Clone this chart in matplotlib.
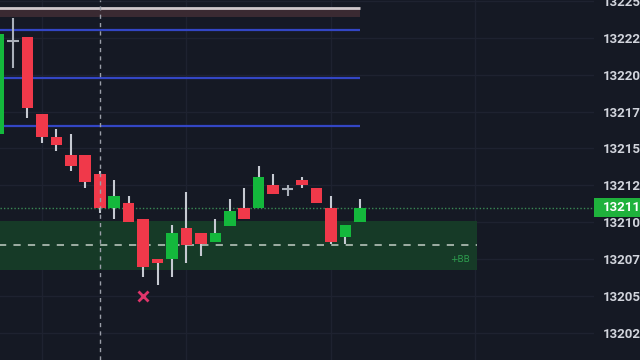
import numpy as np
import matplotlib
matplotlib.use('Agg')
import matplotlib.pyplot as plt
from matplotlib.ticker import FixedLocator, FixedFormatter
from matplotlib.patches import Rectangle
import matplotlib.transforms as mtransforms

# candle data (index 0..25)
opens  = [13216.00, 13222.30, 13222.55, 13217.30, 13215.75, 13214.55, 13214.55, 13213.30,
          13211.00, 13211.30, 13210.25, 13207.55, 13207.50, 13209.60, 13209.25, 13208.70,
          13209.75, 13211.00, 13211.00, 13212.55, 13212.25, 13212.85, 13212.30, 13211.00,
          13209.00, 13210.00]
highs  = [13222.95, 13223.85, 13222.55, 13217.30, 13216.35, 13216.00, 13214.55, 13213.50,
          13212.85, 13211.80, 13210.25, 13207.55, 13209.80, 13212.05, 13209.25, 13210.25,
          13211.55, 13212.30, 13213.80, 13213.30, 13212.55, 13213.05, 13212.30, 13211.80,
          13209.80, 13211.55]
lows   = [13215.90, 13220.45, 13217.05, 13215.35, 13214.80, 13213.50, 13212.30, 13210.60,
          13210.25, 13210.00, 13206.30, 13205.75, 13206.30, 13207.25, 13207.75, 13208.70,
          13209.75, 13210.20, 13211.00, 13211.95, 13211.75, 13212.30, 13211.30, 13208.50,
          13208.50, 13210.00]
closes = [13222.75, 13222.30, 13217.75, 13215.75, 13215.25, 13213.80, 13212.75, 13211.00,
          13211.75, 13210.00, 13206.95, 13207.25, 13209.25, 13208.45, 13208.50, 13209.25,
          13210.75, 13210.20, 13213.05, 13211.95, 13212.25, 13212.50, 13211.30, 13208.70,
          13209.80, 13211.00]

blue_levels = [13223.05, 13219.80, 13216.55]
top_level = 13224.50
top_band = (13223.90, 13224.50)
zone = (13206.80, 13210.10)
zone_mid = 13208.45
last_price = 13211.00
last_label = '13211'
cross_idx = 7
signal_idx, signal_price = 10, 13205.0
yticks = [13202.5, 13205.0, 13207.5, 13210.0, 13212.5, 13215.0, 13217.5, 13220.0, 13222.5, 13225.0]
ylabels = ['13202', '13205', '13207', '13210', '13212', '13215', '13217', '13220', '13222', '13225']
xgrid = [3, 13, 23, 33]

bg = '#151924'
red = '#f0394a'
green = '#14b83c'
wick = '#c6cad2'
axis_txt = '#d1d4dc'

fig = plt.figure(figsize=(6.4, 3.6), dpi=100, facecolor=bg)
ax = fig.add_axes([0, 0, 594 / 640, 1])
ax.set_facecolor(bg)
ax.set_xlim(0.1, 41.2)
ax.set_ylim(13200.68, 13225.05)

for y in yticks:
    ax.axhline(y, color='#1e2230', lw=1, zorder=0)
for x in xgrid:
    ax.axvline(x, color='#1e2230', lw=1, zorder=0)

# zone
ax.fill_between([-1, 33.1], zone[0], zone[1], color='#163a27', lw=0, zorder=1)
ax.hlines(zone_mid, -1, 33.1, color='#a9b8ae', lw=1.3, linestyles=(0, (4, 4)), zorder=2)
ax.text(32.6, 13207.5, '+BB', color='#2ea04f', fontsize=6.5, ha='right', va='center', zorder=2)

# levels
ax.fill_between([-1, 25], top_band[0], top_band[1], color='#3a2a32', lw=0, zorder=1)
ax.hlines(top_level, -1, 25, color='#cfc8cc', lw=2, zorder=2)
ax.hlines(blue_levels, -1, 25, color='#3346c4', lw=1.6, zorder=2)

ax.axhline(last_price, color='#3a8a55', lw=1, linestyle=(0, (1, 1.5)), zorder=2)
ax.axvline(cross_idx, color='#9a9ea8', lw=1, linestyle=(0, (3, 3)), zorder=5)

idx = np.arange(len(opens))
for i, o, h, l, c in zip(idx, opens, highs, lows, closes):
    if abs(c - o) < 0.01:
        ax.vlines(i, l, h, color='#aab0ba', lw=1.5, zorder=3)
        ax.hlines(o, i - 0.4, i + 0.4, color='#aab0ba', lw=1.5, zorder=3)
        continue
    col = green if c > o else red
    ax.vlines(i, l, h, color=wick, lw=1.5, zorder=3)
    ax.bar(i, abs(c - o), bottom=min(o, c), width=0.8, color=col, zorder=4)

ax.plot(signal_idx, signal_price, marker='x', color='#e0356b', ms=7, mew=2, zorder=4)

# price scale
ax.yaxis.tick_right()
ax.yaxis.set_major_locator(FixedLocator(yticks))
ax.yaxis.set_major_formatter(FixedFormatter(ylabels))
ax.tick_params(axis='y', length=0, pad=6.5, labelsize=9.5, labelcolor=axis_txt)
for t in ax.get_yticklabels():
    t.set_fontfamily('Roboto')
    t.set_fontweight('bold')
ax.set_xticks([])
for s in ax.spines.values():
    s.set_visible(False)

trans = mtransforms.blended_transform_factory(ax.transAxes, ax.transData)
ax.add_patch(Rectangle((1.0, last_price - 0.62), 50 / 594, 1.24, transform=trans,
                       facecolor='#1fb23c', edgecolor='none', clip_on=False, zorder=9))
ax.text(1 + 9 / 594, last_price, last_label, transform=trans, color='white',
        fontsize=9.5, family='Roboto', fontweight='bold', ha='left', va='center',
        zorder=10, clip_on=False)

fig.savefig('out.png', dpi=100, facecolor=bg)
